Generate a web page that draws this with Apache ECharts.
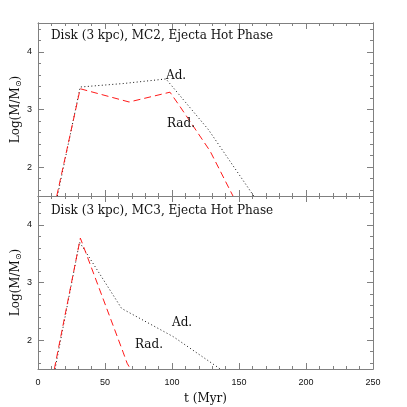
<!DOCTYPE html>
<html>
<head>
<meta charset="utf-8">
<script src="https://cdn.jsdelivr.net/npm/echarts@6/dist/echarts.min.js"></script>
<style>
  html, body { margin: 0; padding: 0; background: #fff; }
  #main { width: 407px; height: 407px; }
</style>
</head>
<body>
<div id="main"></div>
<script>
// panel titles
const panelTitles = ["Disk (3 kpc), MC2, Ejecta Hot Phase", "Disk (3 kpc), MC3, Ejecta Hot Phase"]

// t (Myr), Log(M/Msun) -- top panel (MC2)
const mc2Ad = [[14.5, 1.5], [31.5, 3.39], [63.5, 3.45], [95.5, 3.53], [127.2, 2.65], [161, 1.5]]
const mc2Rad = [[14, 1.5], [31.5, 3.36], [68, 3.13], [98.5, 3.30], [106, 3.05], [128.4, 2.28], [145.5, 1.5]]

// bottom panel (MC3)
const mc3Ad = [[12.7, 1.5], [31, 3.70], [62.4, 2.55], [101, 2.06], [136, 1.5]]
const mc3Rad = [[12.2, 1.5], [31.6, 3.77], [63.7, 1.78], [66.5, 1.60], [69, 1.5]]

// ticks
const xTicks = [0, 50, 100, 150, 200, 250]
const yMajor = [2, 3, 4]
const yMinor = [1.6, 1.8, 2.2, 2.4, 2.6, 2.8, 3.2, 3.4, 3.6, 3.8, 4.2, 4.4]

const axisGrey = "#808080"
const serif = "DejaVu Serif"

var myChart = echarts.init(document.getElementById("main"), null, { renderer: "canvas" })

function xAx(grid, pos, labels) {
  return {
    type: "value", gridIndex: grid, position: pos,
    min: xTicks[0], max: xTicks[xTicks.length - 1], interval: 50,
    axisLine: { show: true, lineStyle: { color: axisGrey, width: 1 } },
    axisTick: { show: true, inside: true, length: 6, lineStyle: { color: axisGrey } },
    minorTick: { show: true, splitNumber: 5, length: 3, lineStyle: { color: axisGrey } },
    axisLabel: { show: labels, margin: 9, color: "#111", fontFamily: "Liberation Sans", fontSize: 9 },
    splitLine: { show: false },
    name: labels ? "t (Myr)" : "",
    nameLocation: "middle", nameGap: 24, nameMoveOverlap: false,
    nameTextStyle: { fontFamily: serif, fontSize: 12, color: "#111" }
  }
}

function yAx(grid, pos, ticks, len, labels) {
  return {
    type: "value", gridIndex: grid, position: pos,
    min: 1.5, max: 4.5,
    axisLine: { show: true, lineStyle: { color: axisGrey, width: 1 } },
    axisTick: { show: true, inside: true, length: len, customValues: ticks, lineStyle: { color: axisGrey } },
    axisLabel: { show: labels, customValues: ticks, margin: 6, color: "#111", fontFamily: "Liberation Sans", fontSize: 9 },
    splitLine: { show: false },
    name: labels ? "Log(M/M{sub|\u2299})" : "",
    nameLocation: "middle", nameGap: 15, nameRotate: 90, nameMoveOverlap: false,
    nameTextStyle: {
      fontFamily: serif, fontSize: 12, color: "#111",
      rich: { sub: { fontFamily: serif, fontSize: 8, verticalAlign: "bottom", padding: [6, 0, 0, 0], color: "#111" } }
    }
  }
}

function line(data, x, y, rad) {
  return {
    type: "line", data: data, xAxisIndex: x, yAxisIndex: y,
    showSymbol: false, clip: true,
    lineStyle: rad
      ? { color: "#ff1a1a", width: 1, type: [7, 4] }
      : { color: "#111", width: 1, type: [1, 2.5] }
  }
}

function txt(s, left, top, size) {
  return { text: s, left: left, top: top, textStyle: { fontFamily: serif, fontSize: size, fontWeight: "normal", color: "#111" } }
}

myChart.setOption({
  animation: false,
  grid: [
    { left: 38, top: 23, width: 335, height: 173, containLabel: false, outerBoundsMode: "none" },
    { left: 38, top: 196, width: 335, height: 173, containLabel: false, outerBoundsMode: "none" }
  ],
  title: [
    txt(panelTitles[0], 46, 25, 12),
    txt(panelTitles[1], 46, 200, 12),
    txt("Ad.", 161, 65, 12),
    txt("Rad.", 162, 113, 12),
    txt("Ad.", 167, 312, 12),
    txt("Rad.", 130, 334, 12)
  ],
  xAxis: [xAx(0, "bottom", false), xAx(0, "top", false), xAx(1, "bottom", true), xAx(1, "top", false)],
  yAxis: [
    yAx(0, "left", yMajor, 6, true), yAx(0, "left", yMinor, 3, false),
    yAx(0, "right", yMajor, 6, false), yAx(0, "right", yMinor, 3, false),
    yAx(1, "left", yMajor, 6, true), yAx(1, "left", yMinor, 3, false),
    yAx(1, "right", yMajor, 6, false), yAx(1, "right", yMinor, 3, false)
  ],
  series: [
    line(mc2Ad, 0, 0, false),
    line(mc2Rad, 0, 0, true),
    line(mc3Ad, 2, 4, false),
    line(mc3Rad, 2, 4, true)
  ]
})
</script>
</body>
</html>
